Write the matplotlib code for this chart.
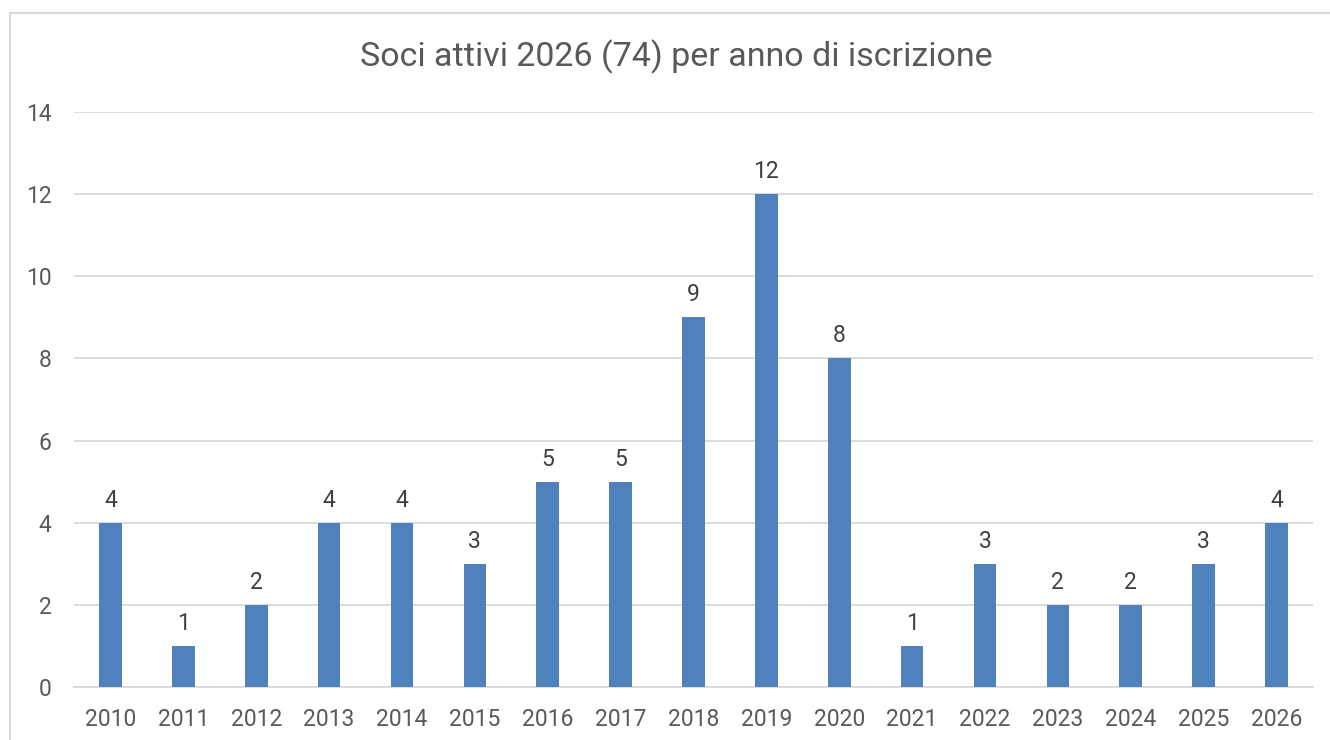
import matplotlib
matplotlib.use("Agg")
import matplotlib.pyplot as plt
from matplotlib.lines import Line2D
import numpy as np

# data
anni = ["2010", "2011", "2012", "2013", "2014", "2015", "2016", "2017", "2018",
        "2019", "2020", "2021", "2022", "2023", "2024", "2025", "2026"]
soci = [4, 1, 2, 4, 4, 3, 5, 5, 9, 12, 8, 1, 3, 2, 2, 3, 4]
y_ticks = [0, 2, 4, 6, 8, 10, 12, 14]

BAR = "#4F81BD"
GRID = "#D9D9D9"
TXT = "#595959"
LBL = "#404040"

plt.rcParams["font.family"] = ["Roboto", "DejaVu Sans"]

fig = plt.figure(figsize=(13.3, 7.4), dpi=100)
fig.patch.set_facecolor("white")
ax = fig.add_axes([74 / 1330, 1 - 687 / 740, (1313 - 74) / 1330, (687 - 112) / 740])

x = np.arange(len(anni))
bars = ax.bar(x, soci, width=0.31, color=BAR, zorder=3)
for b, v in zip(bars, soci):
    ax.annotate(str(v), (b.get_x() + b.get_width() / 2, v),
                xytext=(0, 8), textcoords="offset points",
                ha="center", va="bottom", fontsize=16.5, color=LBL)

ax.set_xlim(-0.5, len(anni) - 0.5)
ax.set_ylim(0, 14)
ax.set_yticks(y_ticks)
ax.set_xticks(x)
ax.set_xticklabels(anni)
ax.tick_params(axis="both", length=0, labelsize=16.5, labelcolor=TXT)
ax.tick_params(axis="y", pad=16)
ax.tick_params(axis="x", pad=15)
ax.grid(axis="y", color=GRID, linewidth=1.3, zorder=0)
for s in ["top", "right", "left"]:
    ax.spines[s].set_visible(False)
ax.spines["bottom"].set_color(GRID)
ax.spines["bottom"].set_linewidth(1.3)

fig.text(676 / 1330, 1 - 57 / 740, "Soci attivi 2026 (74) per anno di iscrizione",
         ha="center", va="center", fontsize=24.5, color=TXT)

# chart border (cropped at right and bottom)
fig.add_artist(Line2D([10 / 1330, 10 / 1330], [0, 1 - 13 / 740],
                      color=GRID, linewidth=1.5, transform=fig.transFigure))
fig.add_artist(Line2D([10 / 1330, 1], [1 - 13 / 740, 1 - 13 / 740],
                      color=GRID, linewidth=1.5, transform=fig.transFigure))

fig.savefig("out.png", dpi=100, facecolor="white")
